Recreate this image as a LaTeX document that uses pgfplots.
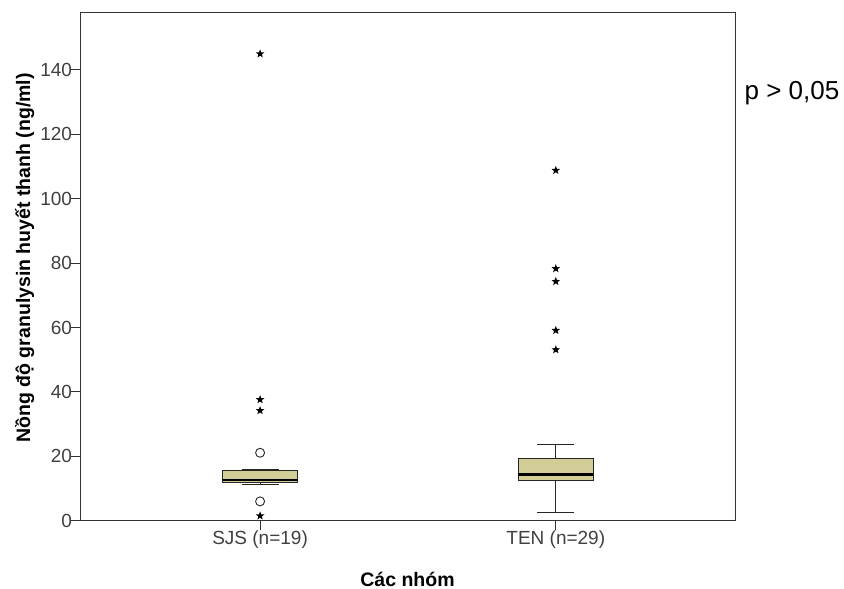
\documentclass[border=0pt]{standalone}
\usepackage{pgfplots}
\pgfplotsset{compat=1.18}
\usepgfplotslibrary{statistics}
\usepackage{fontspec}
\setmainfont{Liberation Sans}
\definecolor{boxfill}{RGB}{210,204,150}
\makeatletter
\pgfdeclareplotmark{fstar}{%
  \pgfpathmoveto{\pgfqpointpolar{90}{\pgfplotmarksize}}%
  \pgfpathlineto{\pgfqpointpolar{126}{0.42\pgfplotmarksize}}%
  \pgfpathlineto{\pgfqpointpolar{162}{\pgfplotmarksize}}%
  \pgfpathlineto{\pgfqpointpolar{198}{0.42\pgfplotmarksize}}%
  \pgfpathlineto{\pgfqpointpolar{234}{\pgfplotmarksize}}%
  \pgfpathlineto{\pgfqpointpolar{270}{0.42\pgfplotmarksize}}%
  \pgfpathlineto{\pgfqpointpolar{306}{\pgfplotmarksize}}%
  \pgfpathlineto{\pgfqpointpolar{342}{0.42\pgfplotmarksize}}%
  \pgfpathlineto{\pgfqpointpolar{18}{\pgfplotmarksize}}%
  \pgfpathlineto{\pgfqpointpolar{54}{0.42\pgfplotmarksize}}%
  \pgfpathclose
  \pgfusepathqfill
}
\makeatother
\begin{document}
\begin{tikzpicture}
\path[use as bounding box] (-80pt,-68.3pt) rectangle (764pt,520.7pt);
\begin{axis}[
  at={(0,0)}, anchor=south west,
  scale only axis, width=655pt, height=508.4pt,
  xmin=0.391, xmax=2.606, ymin=0, ymax=157.9,
  xtick={1,2}, xticklabels={SJS (n=19), TEN (n=29)},
  ytick={0,20,40,60,80,100,120,140},
  tick align=outside, tick pos=left,
  major tick length=9pt,
  axis line style={black!80, line width=0.9pt},
  every tick/.style={black!80, line width=0.9pt},
  tick label style={font=\fontsize{19}{23}\selectfont, text=black!75},
  /pgf/number format/assume math mode=true,
  yticklabel style={xshift=4.5pt},
  xticklabel style={yshift=2pt},
  xlabel={\textbf{Các nhóm}},
  ylabel={\textbf{Nồng độ granulysin huyết thanh (ng/ml)}},
  label style={font=\fontsize{19.5}{23}\selectfont},
  xlabel style={at={(axis description cs:0.5,-0.115)}, anchor=center},
  ylabel style={at={(axis description cs:-0.0845,0.517)}, anchor=center},
  clip=false,
  boxplot/draw direction=y,
]
\addplot+[black!85, line width=0.9pt, fill=boxfill, mark=none,
  boxplot prepared={draw position=1, lower whisker=11.2, lower quartile=11.8,
    median=12.7, upper quartile=15.5, upper whisker=16.0,
    box extend=0.254, whisker extend=0.125},
  boxplot/every median/.style={line width=2.6pt, black}]
  coordinates {};
\addplot+[black!85, line width=0.9pt, fill=boxfill, mark=none,
  boxplot prepared={draw position=2, lower whisker=2.7, lower quartile=12.4,
    median=14.3, upper quartile=19.2, upper whisker=23.7,
    box extend=0.254, whisker extend=0.125},
  boxplot/every median/.style={line width=2.6pt, black}]
  coordinates {};
% extreme outliers (stars)
\addplot[only marks, mark=fstar, mark size=4.5pt, black]
  coordinates {(1,145) (1,37.6) (1,34.2) (1,1.5)
               (2,108.8) (2,78.3) (2,74.3) (2,59.1) (2,53.1)};
% outliers (circles)
\addplot[only marks, mark=o, mark size=4.5pt, black!85, line width=0.9pt]
  coordinates {(1,21.1) (1,6.0)};
\node[font=\fontsize{26}{30}\selectfont, anchor=center] at (axis description cs:1.087,0.841) {p > 0,05};
\end{axis}
\end{tikzpicture}
\end{document}
